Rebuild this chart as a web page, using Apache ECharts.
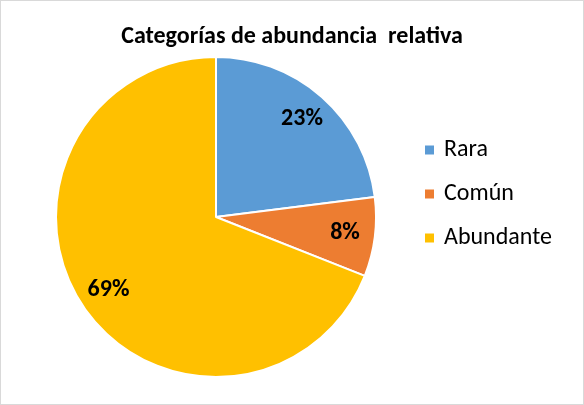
<!DOCTYPE html>
<html>
<head>
<meta charset="utf-8">
<script src="https://cdn.jsdelivr.net/npm/echarts@6/dist/echarts.min.js"></script>
<style>
    html, body { margin: 0; padding: 0; background: #fff; }
    #chart { width: 582px; height: 403px; border: 1px solid #d9d9d9; }
</style>
</head>
<body>
<div id="chart"></div>
<script>
    var categories = ['Rara', 'Común', 'Abundante'];
    var values = [23, 8, 69];
    var colors = ['#5B9BD5', '#ED7D31', '#FFC000'];

    var data = [];
    for (var i = 0; i < categories.length; i++) {
        data.push({name: categories[i], value: values[i], itemStyle: {color: colors[i]}});
    }

    var chart = echarts.init(document.getElementById('chart'), null, {renderer: 'canvas'});
    var font = 'Carlito, Calibri, "Open Sans", sans-serif';
    var option = {
        animation: false,
        title: {
            text: 'Categorías de abundancia  relativa',
            left: 'center',
            top: 19,
            textStyle: {fontFamily: font, fontSize: 24, fontWeight: 'bold', color: '#000'}
        },
        legend: {
            orient: 'vertical',
            left: 417,
            top: 132,
            itemWidth: 11,
            itemHeight: 11,
            itemGap: 20,
            icon: 'rect',
            data: categories,
            textStyle: {fontFamily: font, fontSize: 24, lineHeight: 24, color: '#000', padding: [0, 0, 0, 4]}
        },
        series: [
            {
                type: 'pie',
                center: [215, 216],
                radius: [0, 160],
                startAngle: 90,
                clockwise: true,
                itemStyle: {borderColor: '#fff', borderWidth: 2},
                label: {show: false},
                labelLine: {show: false},
                emphasis: {disabled: true},
                data: data
            },
            {
                // label ring only, keeps the percentages out near the rim like Excel does
                type: 'pie',
                center: [215, 216],
                radius: [94, 160],
                startAngle: 90,
                clockwise: true,
                silent: true,
                itemStyle: {color: 'transparent'},
                label: {
                    show: true,
                    position: 'inside',
                    formatter: '{d}%',
                    fontFamily: font,
                    fontSize: 24,
                    fontWeight: 'bold',
                    color: '#000'
                },
                labelLine: {show: false},
                data: categories.map(function (c, i) { return {name: c, value: values[i]}; })
            }
        ]
    };
    chart.setOption(option);
</script>
</body>
</html>
